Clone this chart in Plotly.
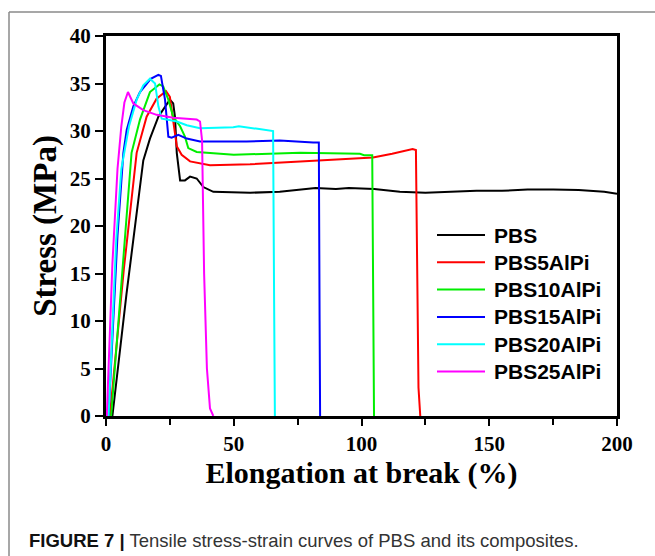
import plotly.graph_objects as go

# ---- data ----
pbs_x = [2.5, 8, 14.6, 17.2, 20.5, 23.8, 25.0, 26.3, 27.0, 27.7, 28.3, 29.0, 30.9, 32.9, 35.5, 38.1, 42,
         56.4, 68, 75, 82, 90, 95, 105, 115, 125, 135, 145, 155, 165, 175, 185, 195, 200]
pbs_y = [0, 12.8, 26.9, 29.2, 31.5, 32.9, 33.3, 32.9, 31.5, 27.7, 26.0, 24.8, 24.8, 25.2, 25.0, 24.1, 23.6,
         23.5, 23.6, 23.8, 24.0, 23.9, 24.0, 23.9, 23.6, 23.5, 23.6, 23.7, 23.7, 23.85, 23.85, 23.8, 23.6, 23.4]

pbs5_x = [1.5, 7, 12, 15.9, 19.8, 23.5, 25.0, 26.3, 27.7, 29.6, 32.9, 40.7, 56.4, 76, 90, 104.5, 112, 120,
          121.3, 121.7, 122.3, 123]
pbs5_y = [0, 15.5, 27.7, 31.5, 33.4, 34.2, 33.6, 31.2, 28.4, 27.5, 26.8, 26.4, 26.5, 26.8, 27.0, 27.2, 27.6, 28.1,
          28.0, 14, 3, 0]

pbs10_x = [2.0, 6.5, 10, 13.3, 17.2, 20.9, 22.4, 24.4, 26.3, 29.0, 30.9, 32.2, 35.5, 50, 68, 76, 99.4, 101,
           104.2, 104.5, 104.9]
pbs10_y = [0, 16, 27.7, 31.2, 34.1, 34.9, 34.7, 33.3, 31.5, 30.5, 29.4, 28.2, 27.8, 27.5, 27.65, 27.7, 27.6, 27.45,
           27.45, 10, 0]

pbs15_x = [1.0, 4.5, 6.8, 8.1, 10.7, 13.3, 17.5, 20.5, 21.5, 23.1, 23.8, 24.4, 25.7, 28.3, 31.6, 36.8, 55, 68,
           81.1, 83.3, 83.6, 83.8]
pbs15_y = [0, 19, 27.7, 30.1, 32.6, 34.1, 35.5, 35.9, 35.8, 33.3, 31.2, 29.4, 29.3, 29.6, 29.2, 28.9, 28.9, 29.0,
           28.8, 28.8, 10, 0]

pbs20_x = [1.0, 4.0, 6.0, 9.0, 12.0, 14.6, 17.2, 19.2, 20.5, 21.8, 23.8, 27.7, 31.6, 36.8, 49.8, 52, 60, 65.4,
           65.8, 66.1]
pbs20_y = [0, 18.5, 26, 30.5, 33.3, 34.8, 35.5, 35.0, 32.6, 31.3, 31.2, 31.0, 30.6, 30.3, 30.4, 30.5, 30.2, 30.0,
           12, 0]

pbs25_x = [0.3, 2.5, 4.5, 6.0, 7.2, 8.6, 10.7, 14.6, 19.8, 26.3, 35.5, 36.8, 37.6, 38.4, 39.5, 40.7, 42.0]
pbs25_y = [0, 16, 26, 30.5, 33, 34.1, 32.9, 32.2, 31.7, 31.4, 31.2, 31.0, 29, 15, 5, 0.8, 0]

names = ["PBS", "PBS5AlPi", "PBS10AlPi", "PBS15AlPi", "PBS20AlPi", "PBS25AlPi"]
xs_all = [pbs_x, pbs5_x, pbs10_x, pbs15_x, pbs20_x, pbs25_x]
ys_all = [pbs_y, pbs5_y, pbs10_y, pbs15_y, pbs20_y, pbs25_y]
colors = ["#000000", "#ff0000", "#00ee00", "#0000ff", "#00ffff", "#ff00ff"]

x_ticks = [0, 50, 100, 150, 200]
y_ticks = [0, 5, 10, 15, 20, 25, 30, 35, 40]

# plot-area geometry (pixels)
L, R, T, B = 106, 617, 36, 416
PW, PH = R - L, B - T

def px(xp):
    return (xp - L) / PW

def py(yp):
    return (B - yp) / PH

fig = go.Figure()
for name, xs, ys, col in zip(names, xs_all, ys_all, colors):
    fig.add_trace(go.Scatter(x=xs, y=ys, mode="lines", name=name,
                             line=dict(color=col, width=2), showlegend=False))

serif = "Liberation Serif"
fig.update_layout(
    width=655, height=556,
    margin=dict(l=L, r=655 - R, t=T, b=556 - B),
    paper_bgcolor="white", plot_bgcolor="white",
    showlegend=False,
    xaxis=dict(range=[0, 200], tickvals=x_ticks, ticks="outside", ticklen=7, tickwidth=2, tickcolor="black",
               showline=True, linewidth=3, linecolor="black", mirror=True,
               showgrid=False, zeroline=False,
               minor=dict(dtick=25, ticks="outside", ticklen=6, tickwidth=2, tickcolor="black"),
               tickfont=dict(family=serif, size=21, color="black", weight="bold"),
               title=dict(text="Elongation at break (%)",
                          font=dict(family=serif, size=30, color="black", weight="bold"), standoff=6)),
    yaxis=dict(range=[0, 40], tickvals=y_ticks, ticks="outside", ticklen=8, tickwidth=2, tickcolor="black",
               showline=True, linewidth=3, linecolor="black", mirror=True,
               showgrid=False, zeroline=False,
               tickfont=dict(family=serif, size=21, color="black", weight="bold"),
               title=dict(text="Stress (MPa)",
                          font=dict(family=serif, size=33, color="black", weight="bold"), standoff=4)),
)

# custom legend (48-px sample lines, bold labels)
leg_x0, leg_x1, leg_tx = 437, 485, 492
leg_y0, leg_dy = 235, 27.3
for i, (name, col) in enumerate(zip(names, colors)):
    yy = py(leg_y0 + i * leg_dy)
    fig.add_shape(type="line", xref="x domain", yref="y domain",
                  x0=px(leg_x0), x1=px(leg_x1), y0=yy, y1=yy,
                  line=dict(color=col, width=2))
    fig.add_annotation(xref="x domain", yref="y domain", x=px(leg_tx), y=yy,
                       xanchor="left", yanchor="middle", showarrow=False, text=name,
                       font=dict(family="Liberation Sans", size=21, color="black", weight="bold"))

# frame lines of the figure panel
fig.add_shape(type="line", xref="x domain", yref="y domain",
              x0=px(9), x1=px(655), y0=py(12), y1=py(12),
              line=dict(color="#8a8a8a", width=1.5), layer="below")
fig.add_shape(type="line", xref="x domain", yref="y domain",
              x0=px(9), x1=px(9), y0=py(12), y1=py(556),
              line=dict(color="#8a8a8a", width=1.5), layer="below")

fig.add_annotation(xref="x domain", yref="y domain", x=px(27), y=py(540),
                   xanchor="left", yanchor="middle", showarrow=False,
                   text="<b>FIGURE 7 |</b> <span style='color:#333333'>Tensile stress-strain curves of PBS and its composites.</span>",
                   font=dict(family="Liberation Sans", size=18.5, color="#111111"))

fig.write_html("out.html", config={"displayModeBar": False},
               post_script="document.body.style.margin='0';")
